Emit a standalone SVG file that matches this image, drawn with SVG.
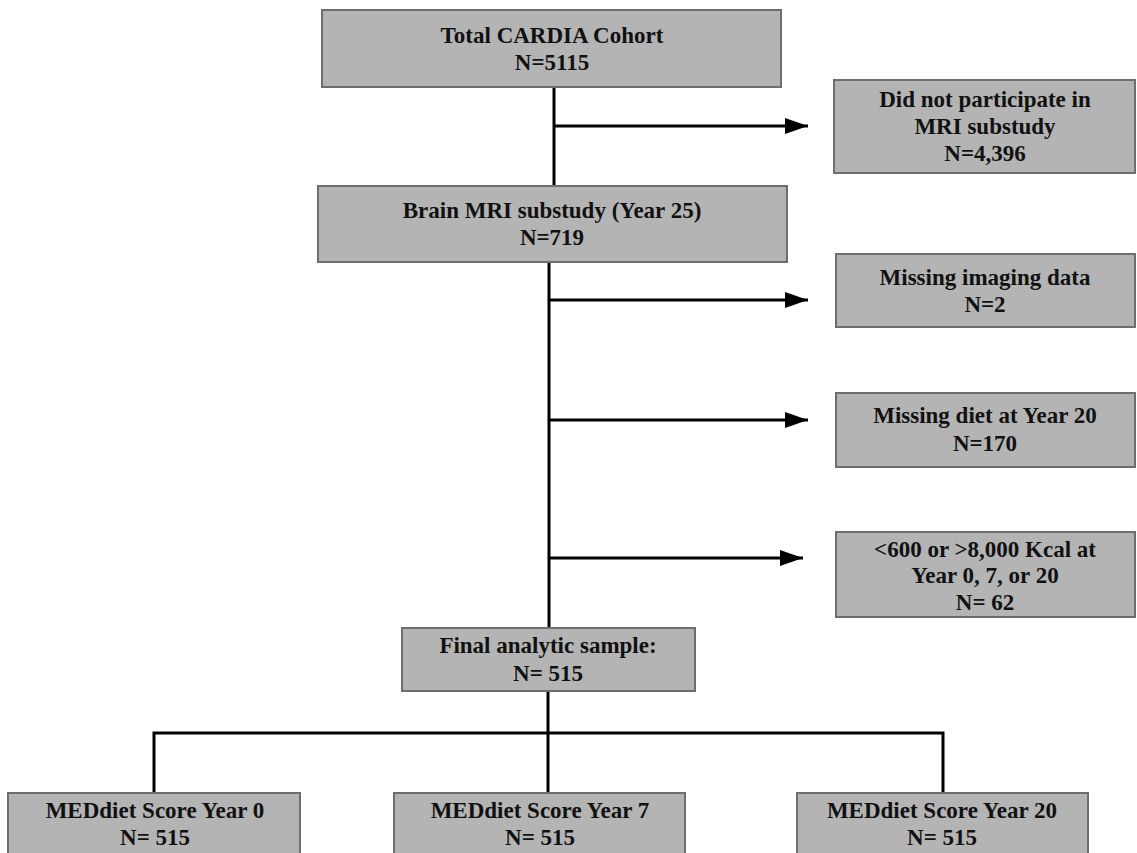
<svg xmlns="http://www.w3.org/2000/svg" width="1137" height="853" viewBox="0 0 1137 853">
<style>
.box{fill:#b4b4b4;stroke:#6e6e6e;stroke-width:2}
.t{font-family:"Liberation Serif","Times New Roman",serif;font-weight:bold;font-size:23px;fill:#111;text-anchor:middle}
.ln{fill:none;stroke:#000;stroke-width:3}
</style>
<defs>
<marker id="ah" viewBox="0 0 23 16" refX="23" refY="8" markerWidth="23" markerHeight="16" markerUnits="userSpaceOnUse" orient="auto">
<path d="M0,0 L23,8 L0,16 Z" fill="#000"/>
</marker>
</defs>
<rect width="1137" height="853" fill="#fff"/>
<g id="connectors">
<line class="ln" x1="554" y1="87" x2="554" y2="186"/>
<line class="ln" x1="554" y1="126" x2="808" y2="126" marker-end="url(#ah)"/>
<line class="ln" x1="549" y1="262" x2="549" y2="628"/>
<line class="ln" x1="549" y1="300" x2="808" y2="300" marker-end="url(#ah)"/>
<line class="ln" x1="549" y1="420" x2="808" y2="420" marker-end="url(#ah)"/>
<line class="ln" x1="549" y1="558" x2="803" y2="558" marker-end="url(#ah)"/>
<line class="ln" x1="548" y1="691" x2="548" y2="733"/>
<polyline class="ln" points="154,793 154,733 943,733 943,793"/>
<line class="ln" x1="548" y1="733" x2="548" y2="793"/>
</g>
<g id="n-total">
<rect class="box" x="322" y="10" width="459" height="77"/>
<text class="t" x="552" y="43">Total CARDIA Cohort</text>
<text class="t" x="552" y="70">N=5115</text>
</g>
<g id="n-noparticipate">
<rect class="box" x="834" y="80" width="301" height="93"/>
<text class="t" x="985" y="107">Did not participate in</text>
<text class="t" x="985" y="134">MRI substudy</text>
<text class="t" x="985" y="161">N=4,396</text>
</g>
<g id="n-brain">
<rect class="box" x="318" y="186" width="469" height="76"/>
<text class="t" x="552" y="218">Brain MRI substudy (Year 25)</text>
<text class="t" x="552" y="245">N=719</text>
</g>
<g id="n-imaging">
<rect class="box" x="836" y="254" width="299" height="73"/>
<text class="t" x="985" y="285">Missing imaging data</text>
<text class="t" x="985" y="312">N=2</text>
</g>
<g id="n-diet">
<rect class="box" x="836" y="393" width="299" height="74"/>
<text class="t" x="985" y="423">Missing diet at Year 20</text>
<text class="t" x="985" y="451">N=170</text>
</g>
<g id="n-kcal">
<rect class="box" x="836" y="532" width="299" height="85"/>
<text class="t" x="985" y="557">&lt;600 or &gt;8,000 Kcal at</text>
<text class="t" x="985" y="583">Year 0, 7, or 20</text>
<text class="t" x="985" y="610">N= 62</text>
</g>
<g id="n-final">
<rect class="box" x="402" y="628" width="293" height="63"/>
<text class="t" x="548" y="653">Final analytic sample:</text>
<text class="t" x="548" y="681">N= 515</text>
</g>
<g id="n-y0">
<rect class="box" x="8" y="793" width="292" height="70"/>
<text class="t" x="155" y="818">MEDdiet Score Year 0</text>
<text class="t" x="155" y="845">N= 515</text>
</g>
<g id="n-y7">
<rect class="box" x="394" y="793" width="291" height="70"/>
<text class="t" x="540" y="818">MEDdiet Score Year 7</text>
<text class="t" x="540" y="845">N= 515</text>
</g>
<g id="n-y20">
<rect class="box" x="797" y="793" width="291" height="70"/>
<text class="t" x="942" y="818">MEDdiet Score Year 20</text>
<text class="t" x="942" y="845">N= 515</text>
</g>
</svg>
